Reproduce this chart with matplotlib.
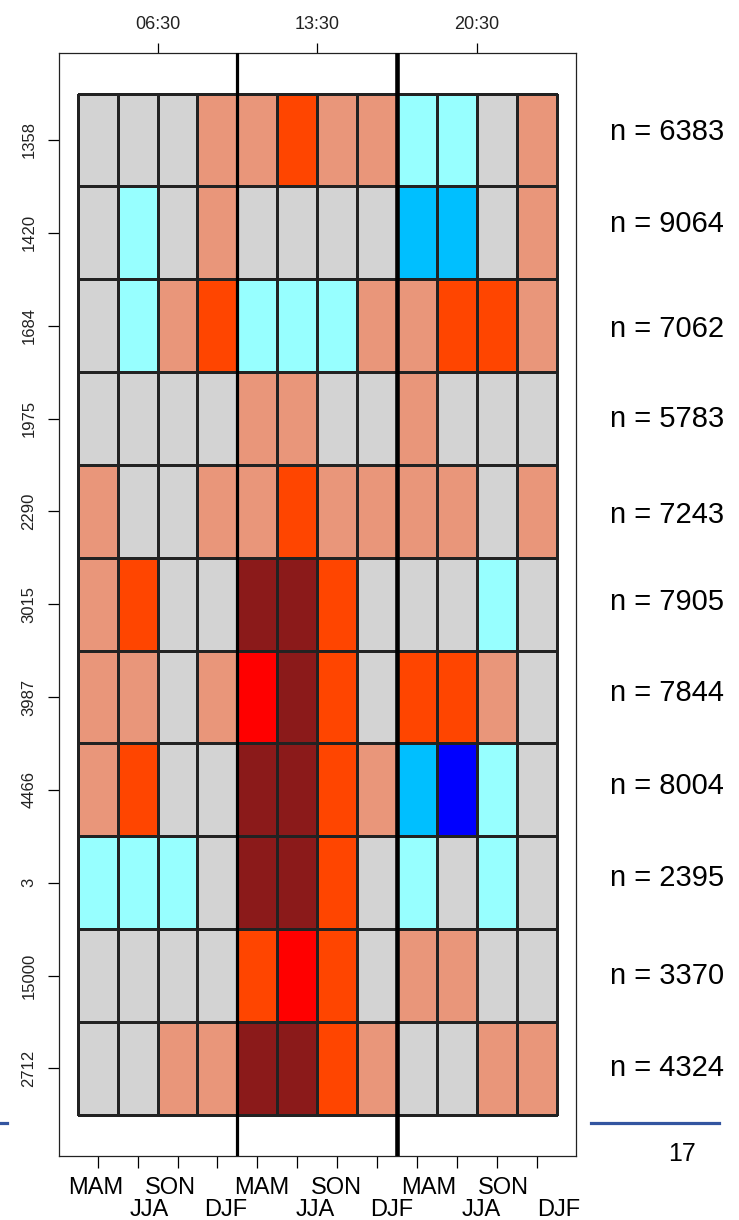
import numpy as np
import matplotlib
matplotlib.use('Agg')
import matplotlib.pyplot as plt
from matplotlib.colors import ListedColormap, BoundaryNorm
from matplotlib.lines import Line2D
from matplotlib.transforms import blended_transform_factory

plt.rcParams['font.family'] = ['Liberation Sans', 'DejaVu Sans']

# row labels (top to bottom) and sample sizes
row_labels = ['1358', '1420', '1684', '1975', '2290', '3015', '3987', '4466', '3', '15000', '2712']
n_values = [6383, 9064, 7062, 5783, 7243, 7905, 7844, 8004, 2395, 3370, 4324]

# time groups on top axis, seasons at bottom
times = ['06:30', '13:30', '20:30']
seasons = ['MAM', 'JJA', 'SON', 'DJF']

# anomaly class per cell: -3 blue ... 0 grey ... 4 dark red
classes = [
    [0, 0, 0, 1, 1, 2, 1, 1, -1, -1, 0, 1],
    [0, -1, 0, 1, 0, 0, 0, 0, -2, -2, 0, 1],
    [0, -1, 1, 2, -1, -1, -1, 1, 1, 2, 2, 1],
    [0, 0, 0, 0, 1, 1, 0, 0, 1, 0, 0, 0],
    [1, 0, 0, 1, 1, 2, 1, 1, 1, 1, 0, 1],
    [1, 2, 0, 0, 4, 4, 2, 0, 0, 0, -1, 0],
    [1, 1, 0, 1, 3, 4, 2, 0, 2, 2, 1, 0],
    [1, 2, 0, 0, 4, 4, 2, 1, -2, -3, -1, 0],
    [-1, -1, -1, 0, 4, 4, 2, 0, -1, 0, -1, 0],
    [0, 0, 0, 0, 2, 3, 2, 0, 1, 1, 0, 0],
    [0, 0, 1, 1, 4, 4, 2, 1, 0, 0, 1, 1],
]

palette = ['#0000FF', '#00BFFF', '#97FFFF', '#D3D3D3', '#E9967A', '#FF4500', '#FF0000', '#8B1A1A']
cmap = ListedColormap(palette)
norm = BoundaryNorm(np.arange(-3.5, 5.5, 1), cmap.N)

data = np.array(classes)
nrow, ncol = data.shape

fig = plt.figure(figsize=(7.39, 12.20), dpi=100)
ax = fig.add_axes([0.0792, 0.0527, 0.7002, 0.9041])

ax.pcolormesh(np.arange(ncol + 1), np.arange(nrow + 1), data, cmap=cmap, norm=norm,
              edgecolors='#222222', linewidth=0.8)

pad_x = ncol * 0.04
pad_y = nrow * 0.04
ax.set_xlim(-pad_x, ncol + pad_x)
ax.set_ylim(nrow + pad_y, -pad_y)

# thick separators between time groups
ax.axvline(4, color='black', lw=2.3, zorder=5)
ax.axvline(8, color='black', lw=3.3, zorder=5)

for s in ax.spines.values():
    s.set_linewidth(0.9)
    s.set_color('#222222')

# left axis
ax.set_yticks(np.arange(nrow) + 0.5)
ax.set_yticklabels(row_labels, rotation=90, va='center', fontsize=12, color='#222222')
ax.tick_params(axis='y', length=8, width=0.9, pad=8)

# bottom ticks, labels drawn as staggered text
ax.set_xticks(np.arange(ncol) + 0.5)
ax.set_xticklabels([])
ax.tick_params(axis='x', bottom=True, length=8.5, width=0.9)

# top axis with times
top = ax.secondary_xaxis('top')
top.set_xticks([2, 6, 10])
top.set_xticklabels(times, fontsize=13, color='#222222')
top.tick_params(length=7.5, width=0.9, pad=7)
top.spines['top'].set_visible(False)

# season labels (two lines, staggered)
lab_tr = blended_transform_factory(ax.transData, fig.transFigure)
group_base = [-0.04, 4.12, 8.30]
season_shift = [0, 1.32, 1.85, 3.24]
line_y = [0.0215, 0.0035, 0.0215, 0.0035]
for g in group_base:
    for k, name in enumerate(seasons):
        fig.text(g + season_shift[k] + 0.5, line_y[k], name, transform=lab_tr,
                 ha='center', va='baseline', fontsize=17, color='black')

# sample sizes on the right
n_shift = [-0.09, -0.09, 0.04, 0.0, 0.04, -0.02, -0.04, -0.04, -0.05, 0.0, 0.0]
n_tr = blended_transform_factory(fig.transFigure, ax.transData)
for i, n in enumerate(n_values):
    fig.text(0.8254, i + 0.5 + n_shift[i], 'n = %d' % n, transform=n_tr,
             ha='left', va='center', fontsize=21, color='black')

# slide decorations
fig.add_artist(Line2D([0, 0.0095], [0.0795, 0.0795], color='#3355A0', lw=2.3))
fig.add_artist(Line2D([0.7997, 0.973], [0.0795, 0.0795], color='#3355A0', lw=2.3))
fig.text(0.923, 0.054, '17', ha='center', va='center', fontsize=18, color='black')

fig.savefig('out.png', dpi=100)
